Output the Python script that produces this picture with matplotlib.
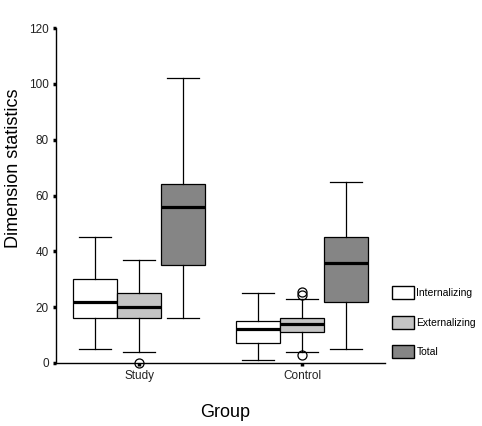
import matplotlib.pyplot as plt
from matplotlib.patches import Patch

plt.rcParams['font.family'] = ['Liberation Sans', 'DejaVu Sans']

groups = ['Study', 'Control']
series = ['Internalizing', 'Externalizing', 'Total']
colors = ['#ffffff', '#c4c4c4', '#858585']

# five-number summaries per group, per series: (low whisker, q1, median, q3, high whisker)
internalizing = [(5, 16, 22, 30, 45), (1, 7, 12, 15, 25)]
externalizing = [(4, 16, 20, 25, 37), (4, 11, 14, 16, 23)]
total = [(16, 35, 56, 64, 102), (5, 22, 36, 45, 65)]
outliers = {
    ('Study', 'Externalizing'): [0],
    ('Control', 'Externalizing'): [24.5, 25.3, 3],
}

fig = plt.figure(figsize=(4.82, 4.26), dpi=100)
ax = fig.add_axes([0.116, 0.148, 0.683, 0.786])

width = 0.27
offsets = [-width, 0, width]
for s, (name, data, col) in enumerate(zip(series, [internalizing, externalizing, total], colors)):
    stats = []
    for g, grp in enumerate(groups):
        lo, q1, med, q3, hi = data[g]
        stats.append({'whislo': lo, 'q1': q1, 'med': med, 'q3': q3, 'whishi': hi,
                      'fliers': outliers.get((grp, name), [])})
    pos = [g + offsets[s] for g in range(len(groups))]
    bp = ax.bxp(stats, positions=pos, widths=width, patch_artist=True,
                showfliers=True, manage_ticks=False,
                boxprops=dict(facecolor=col, edgecolor='black', linewidth=0.9),
                medianprops=dict(color='black', linewidth=2.3),
                whiskerprops=dict(color='black', linewidth=0.9),
                capprops=dict(color='black', linewidth=0.9),
                capwidths=width * 0.72,
                flierprops=dict(marker='o', markersize=6.5, markerfacecolor='none',
                                markeredgecolor='black', markeredgewidth=0.9))
    for fl in bp['fliers']:
        fl.set_clip_on(False)

ax.set_xlim(-0.51, 1.51)
ax.set_ylim(0, 120)
ax.set_yticks([0, 20, 40, 60, 80, 100, 120])
ax.set_xticks(range(len(groups)))
ax.set_xticklabels(groups)
ax.spines['top'].set_visible(False)
ax.spines['right'].set_visible(False)
ax.spines['left'].set_linewidth(1.0)
ax.spines['bottom'].set_linewidth(1.0)
ax.tick_params(axis='both', length=2, width=2.5, labelsize=8.5, pad=3, labelcolor='#222222')

ax.set_ylabel('Dimension statistics', fontsize=13)
ax.yaxis.set_label_coords(-0.103, 0.58)
ax.set_xlabel('Group', fontsize=13)
ax.xaxis.set_label_coords(0.514, -0.122)

handles = [Patch(facecolor=c, edgecolor='black', linewidth=1.0, label=n) for n, c in zip(series, colors)]
fig.legend(handles=handles, loc='upper left', bbox_to_anchor=(392 / 482, 1 - 286 / 426),
           frameon=False, fontsize=7.5, handlelength=2.1, handleheight=1.6,
           labelspacing=1.55, handletextpad=0.25, borderaxespad=0, borderpad=0)

plt.savefig('out.png', dpi=100)
